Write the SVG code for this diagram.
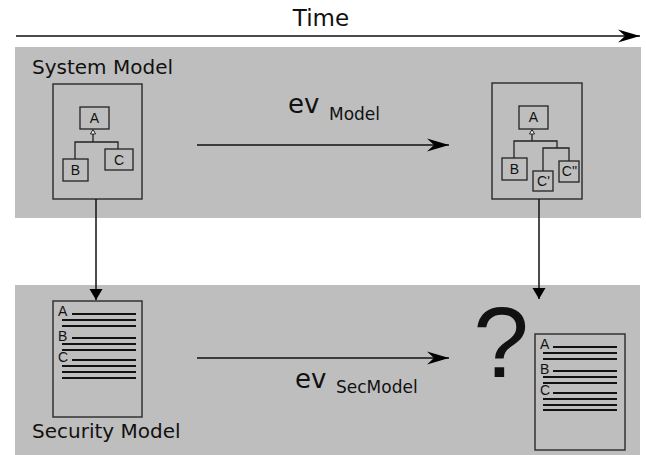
<svg xmlns="http://www.w3.org/2000/svg" width="646" height="455" viewBox="0 0 646 455">
  <style>
    .band { fill: #bebebe; }
    .frame { fill: none; stroke: #333; stroke-width: 1.5; }
    .cls { fill: none; stroke: #222; stroke-width: 1.3; }
    .tree { fill: none; stroke: #222; stroke-width: 1.3; }
    .wire { fill: none; stroke: #111; stroke-width: 1.5; }
    .row { stroke: #111; stroke-width: 2.2; }
    text { font-family: "DejaVu Sans", sans-serif; fill: #111; }
    .title { font-size: 20px; }
    .box { font-family: "Liberation Sans", Arial, sans-serif; font-size: 14px; text-anchor: middle; }
    .doc { font-family: "Liberation Sans", Arial, sans-serif; font-size: 14px; }
    .q { font-family: "Liberation Sans", Arial, sans-serif; font-size: 100px; text-anchor: middle; }
  </style>
  <defs>
    <marker id="headH" markerUnits="userSpaceOnUse" markerWidth="24" markerHeight="16" refX="0" refY="0" viewBox="-23 -8 24 16" orient="auto" overflow="visible">
      <path d="M0,0 L-22,-6.5 L-15,0 L-22,6.5 Z" fill="#000"/>
    </marker>
    <marker id="headV" markerUnits="userSpaceOnUse" markerWidth="14" markerHeight="14" refX="0" refY="0" viewBox="-13 -7 14 14" orient="auto" overflow="visible">
      <path d="M0,0 L-11,-6.5 L-11,6.5 Z" fill="#000"/>
    </marker>
    <g id="rows">
      <line class="row" x1="19" y1="0" x2="83" y2="0"/>
      <line class="row" x1="9" y1="6" x2="83" y2="6"/>
      <line class="row" x1="9" y1="12" x2="83" y2="12"/>
    </g>
  </defs>

  <!-- swim lanes -->
  <rect class="band" x="15" y="47" width="626" height="171"/>
  <rect class="band" x="15" y="285" width="625" height="170"/>

  <!-- time axis -->
  <text x="321" y="26" font-size="23" text-anchor="middle">Time</text>

  <text class="title" x="32" y="74">System Model</text>
  <text class="title" x="32" y="438">Security Model</text>

  <!-- system model, initial -->
  <g id="sys-model-1">
    <rect class="frame" x="53" y="84" width="89" height="115"/>
    <rect class="cls" x="80" y="107" width="29" height="22"/>
    <text class="box" x="94.5" y="123">A</text>
    <rect class="cls" x="63" y="159" width="25" height="22"/>
    <text class="box" x="75.5" y="175">B</text>
    <rect class="cls" x="105" y="149" width="28" height="21"/>
    <text class="box" x="119" y="165">C</text>
    <path class="tree" d="M93,134 V142 M75,159 V142 H118 V149"/>
    <path d="M93,129.5 L90.5,134 L95.5,134 Z" fill="#fff" stroke="#222" stroke-width="1"/>
  </g>

  <!-- system model, evolved -->
  <g id="sys-model-2">
    <rect class="frame" x="492" y="83" width="90" height="116"/>
    <rect class="cls" x="519" y="106" width="29" height="23"/>
    <text class="box" x="533.5" y="122">A</text>
    <rect class="cls" x="502" y="158" width="25" height="22"/>
    <text class="box" x="514.5" y="174">B</text>
    <rect class="cls" x="533" y="171" width="20" height="20"/>
    <text class="box" x="543.5" y="186">C'</text>
    <rect class="cls" x="559" y="161" width="20" height="21"/>
    <text class="box" x="569.5" y="176">C''</text>
    <path class="tree" d="M532,134 V141 M514,158 V141 H557 V148 M543,171 V148 H569 V161"/>
    <path d="M532,129.5 L529.5,134 L534.5,134 Z" fill="#fff" stroke="#222" stroke-width="1"/>
  </g>

  <!-- security model, initial -->
  <g id="sec-model-1">
    <rect class="frame" x="53" y="301" width="89" height="116" stroke-width="1.3"/>
    <text class="doc" x="58" y="316">A</text>
    <use href="#rows" x="53" y="314"/>
    <text class="doc" x="58" y="341">B</text>
    <use href="#rows" x="53" y="338"/>
    <text class="doc" x="58" y="362">C</text>
    <use href="#rows" x="53" y="360"/>
    <line class="row" x1="62" y1="378" x2="136" y2="378"/>
  </g>

  <!-- security model, unknown -->
  <g id="sec-model-2">
    <text class="q" x="501" y="377">?</text>
    <rect class="frame" x="535" y="334" width="90" height="116" stroke-width="1.3"/>
    <text class="doc" x="540" y="349">A</text>
    <use href="#rows" x="534" y="347"/>
    <text class="doc" x="540" y="374">B</text>
    <use href="#rows" x="534" y="371"/>
    <text class="doc" x="540" y="395">C</text>
    <use href="#rows" x="534" y="393"/>
    <line class="row" x1="543" y1="410" x2="617" y2="410"/>
  </g>

  <!-- connectors -->
  <g id="connectors">
    <line class="wire" x1="16" y1="36" x2="640" y2="36" marker-end="url(#headH)"/>
    <line class="wire" x1="197" y1="145" x2="449" y2="145" marker-end="url(#headH)"/>
    <line class="wire" x1="197" y1="358" x2="449" y2="358" marker-end="url(#headH)"/>
    <line class="wire" x1="96" y1="199" x2="96" y2="300" marker-end="url(#headV)"/>
    <line class="wire" x1="539" y1="199" x2="539" y2="299" marker-end="url(#headV)"/>
  </g>

  <!-- evolution labels -->
  <text x="288" y="113" font-size="26">ev</text>
  <text x="329" y="120" font-size="17">Model</text>
  <text x="295" y="388" font-size="26">ev</text>
  <text x="336" y="393" font-size="17">SecModel</text>
</svg>
